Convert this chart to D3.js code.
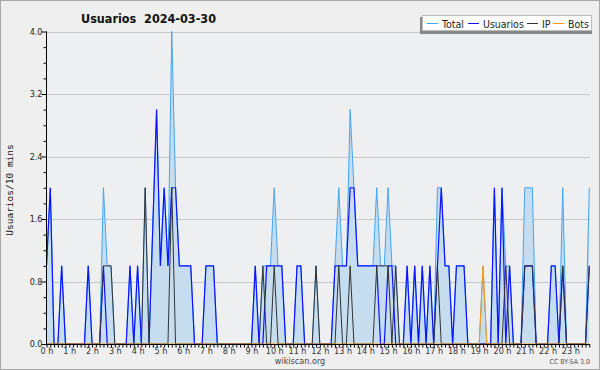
<!DOCTYPE html>
<html>
<head>
<meta charset="utf-8">
<script src="https://cdn.jsdelivr.net/npm/d3@7"></script>
<style>
  body { margin: 0; background: #efefef; }
  svg { display: block; }
  text { font-family: "DejaVu Sans Condensed", "DejaVu Sans", sans-serif; font-stretch: condensed; }
</style>
</head>
<body>
<script>
// 10 minute slots, 0..143
const usuarios = [
  1,2,0,0,1,0,0,0,0,0,0,1,0,0,0,1,0,0,0,0,0,0,1,0,1,0,0,0,1.5,3,
  1,2,1,2,2,1,1,1,1,0,0,0,1,1,1,0,0,0,0,0,0,0,0,0,0,1,0,0,1,1,
  1,1,1,0,0,0,1,1,0,0,0,0,0,0,0,0,1,1,1,1,2,2,1,1,1,1,1,1,0,0,
  1,1,0,0,0,1,0,1,0,1,0,1,0,1,2,1,1,0,1,1,1,0,0,0,0,0,0,0,2,0,
  2,0,1,0,0,0,1,1,1,0,0,0,0,1,1,0,1,0,0,0,0,0,0,1
]
const ip = [
  0,0,0,0,0,0,0,0,0,0,0,0,0,0,0,1,1,1,0,0,0,0,0,0,0,0,2,0,0,0,
  0,0,0,2,0,0,0,0,0,0,0,0,0,0,0,0,0,0,0,0,0,0,0,0,0,0,0,1,0,0,
  1,0,0,0,0,0,0,0,0,0,0,1,0,0,0,0,0,1,0,0,1,0,0,0,0,0,0,1,1,1,
  1,0,1,0,0,0,0,0,0,0,0,0,0,1,0,0,0,0,0,0,0,0,0,0,0,0,0,0,0,0,
  0,1,0,0,0,0,1,1,1,0,0,0,0,0,0,0,1,0,0,0,0,0,0,1
]
const bots = [
  0,0,0,0,0,0,0,0,0,0,0,0,0,0,0,0,0,0,0,0,0,0,0,0,0,0,0,0,0,0,
  0,0,0,0,0,0,0,0,0,0,0,0,0,0,0,0,0,0,0,0,0,0,0,0,0,0,0,0,0,0,
  0,0,0,0,0,0,0,0,0,0,0,0,0,0,0,0,0,0,0,0,0,0,0,0,0,0,0,0,0,0,
  0,0,0,0,0,0,0,0,0,0,0,0,0,0,0,0,0,0,0,0,0,0,0,0,0,1,0,0,0,0,
  0,0,0,0,0,0,0,0,0,0,0,0,0,0,0,0,0,0,0,0,0,0,0,0
]
const total = [
  1,2,0,0,1,0,0,0,0,0,0,1,0,0,0,2,1,1,0,0,0,0,1,0,1,0,2,0,1.5,3,
  1,2,1,4,2,1,1,1,1,0,0,0,1,1,1,0,0,0,0,0,0,0,0,0,0,1,0,1,1,1,
  2,1,1,0,0,0,1,1,0,0,0,1,0,0,0,0,1,2,1,1,3,2,1,1,1,1,1,2,1,1,
  2,1,1,0,0,1,0,1,0,1,0,1,0,2,2,1,1,0,1,1,1,0,0,0,0,1,0,0,2,0,
  2,1,1,0,0,0,2,2,2,0,0,0,0,1,1,0,2,0,0,0,0,0,0,2
]
const yTicks = [0, 0.8, 1.6, 2.4, 3.2, 4.0]
const hours = d3.range(0, 24)
const series = [
  { name: "Total", values: total, color: "#44a4f4" },
  { name: "Usuarios", values: usuarios, color: "#0a14ff" },
  { name: "IP", values: ip, color: "#333333" },
  { name: "Bots", values: bots, color: "#ff9a10" }
]

let W = 600, H = 370
let svg = d3.select("body").append("svg").attr("width", W).attr("height", H)

svg.append("rect").attr("x", 0.5).attr("y", 0.5).attr("width", W - 1).attr("height", H - 1)
  .style("fill", "#efefef").style("stroke", "#a8a8a8")

// scales: x in slot index, y in edits
let x = d3.scaleLinear().domain([0, 143]).range([46.5, 589.3])
let y = d3.scaleLinear().domain([0, 4]).range([344, 31.5])
let xl = 46, xr = 590

svg.append("rect").attr("x", xl).attr("y", y(4)).attr("width", xr - xl).attr("height", y(0) - y(4))
  .style("fill", "#eeeff1")

// grid
svg.append("g").selectAll("line").data(yTicks.slice(1)).enter().append("line")
  .attr("x1", xl).attr("x2", xr)
  .attr("y1", d => Math.round(y(d)) + 0.5).attr("y2", d => Math.round(y(d)) + 0.5)
  .style("stroke", "#c8c8c8").style("stroke-width", 1)

// area of total
let area = d3.area().x((d, i) => x(i)).y0(y(0)).y1(d => y(d))
svg.append("path").datum(total).attr("d", area).style("fill", "#c6ddf0")

let line = d3.line().x((d, i) => x(i)).y(d => y(d))
series.forEach(s => {
  svg.append("path").datum(s.values).attr("d", line)
    .style("fill", "none").style("stroke", s.color)
    .style("stroke-width", s.name == "Usuarios" ? 1.2 : 1)
    .style("stroke-linejoin", "miter")
})

// y axis
let yAxis = d3.axisLeft(y).tickValues(yTicks).tickFormat(d3.format(".1f")).tickSize(5)
let gy = svg.append("g").attr("transform", "translate(" + (xl + 0.5) + ",0)").call(yAxis)
gy.select(".domain").remove()
gy.selectAll("text").style("font-size", "9px").style("fill", "#222").attr("x", -4)
let gyMinor = svg.append("g").attr("transform", "translate(" + (xl + 0.5) + ",0)")
  .call(d3.axisLeft(y).tickValues(d3.range(0, 4.01, 0.2).filter(v => Math.abs(v / 0.8 - Math.round(v / 0.8)) > 0.01)).tickSize(3).tickFormat(""))
gyMinor.select(".domain").remove()
svg.append("line").attr("x1", xl + 0.5).attr("x2", xl + 0.5).attr("y1", y(4)).attr("y2", y(0))
  .style("stroke", "#000")

// x axis
let gx = svg.append("g").attr("transform", "translate(0," + (y(0) + 0.5) + ")")
  .call(d3.axisBottom(x).tickValues(d3.range(0, 144)).tickSize(3).tickFormat(""))
gx.select(".domain").remove()
svg.append("line").attr("x1", xl).attr("x2", xr).attr("y1", y(0) + 0.5).attr("y2", y(0) + 0.5)
  .style("stroke", "#000")
svg.append("g").selectAll("text").data(hours).enter().append("text")
  .attr("x", d => x(d * 6) + 0.5).attr("y", 354)
  .attr("text-anchor", "middle")
  .style("font-size", "9px").style("fill", "#333")
  .text(d => d + " h")

// y label
svg.append("text")
  .attr("transform", "translate(13,190) rotate(-90)")
  .attr("text-anchor", "middle")
  .style("font-family", "'DejaVu Sans Mono', monospace").style("font-stretch", "normal")
  .style("font-size", "9.5px").style("fill", "#111")
  .text("Usuarios/10 mins")

// title
svg.append("text").attr("x", 81).attr("y", 23)
  .style("font-size", "12.5px").style("font-weight", "bold").style("fill", "#111")
  .attr("xml:space", "preserve")
  .text("Usuarios  2024-03-30")

// legend
let lg = svg.append("g")
lg.append("rect").attr("x", 420).attr("y", 17).attr("width", 172).attr("height", 17).style("fill", "#888")
lg.append("rect").attr("x", 422.5).attr("y", 15.5).attr("width", 169).attr("height", 15)
  .style("fill", "#fff").style("stroke", "#bbb")
let legendX = [427, 468, 527, 553]
series.forEach((s, i) => {
  lg.append("line").attr("x1", legendX[i]).attr("x2", legendX[i] + 11).attr("y1", 23.5).attr("y2", 23.5)
    .style("stroke", s.color).style("stroke-width", 1)
  lg.append("text").attr("x", legendX[i] + 15).attr("y", 27.5)
    .style("font-size", "10.5px").style("fill", "#222").text(s.name)
})

// footer
svg.append("text").attr("x", 300).attr("y", 364).attr("text-anchor", "middle")
  .style("font-size", "9px").style("fill", "#444").text("wikiscan.org")
svg.append("text").attr("x", 590).attr("y", 364).attr("text-anchor", "end")
  .style("font-size", "7px").style("fill", "#555").text("CC BY-SA 3.0")
</script>
</body>
</html>
